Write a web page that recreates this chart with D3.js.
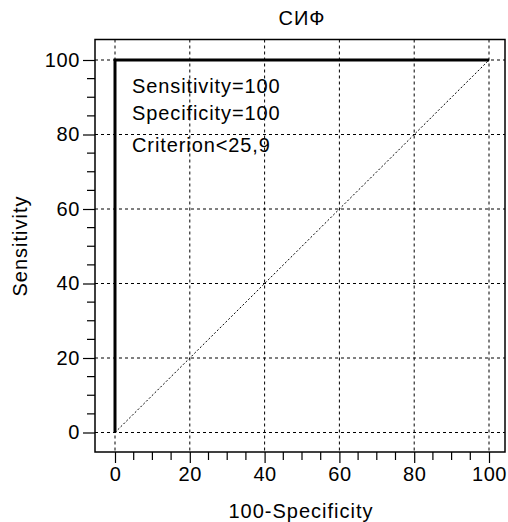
<!DOCTYPE html>
<html>
<head>
<meta charset="utf-8">
<script src="https://cdn.jsdelivr.net/npm/d3@7"></script>
<style>
  body { margin: 0; background: white; }
  svg { font-family: 'Liberation Sans', Arial, sans-serif; }
</style>
</head>
<body>
<div id="chart"></div>
<script>
var rocX = [0, 0, 100];
var rocY = [0, 100, 100];
var diagX = [0, 100];
var diagY = [0, 100];
var tickVals = [0, 20, 40, 60, 80, 100];
var notes = ['Sensitivity=100', 'Specificity=100', 'Criterion<25,9'];

var width = 508;
var height = 522;
var frame = { left: 95, right: 505, top: 39.5, bottom: 452 };
var font = "'Liberation Sans', Arial, sans-serif";

var svg = d3.select('#chart').append('svg')
    .attr('width', width)
    .attr('height', height);

var xScale = d3.scaleLinear().domain([0, 100]).range([115, 489]);
var yScale = d3.scaleLinear().domain([0, 100]).range([432.5, 60]);

var minorVals = d3.range(0, 101, 5).filter(d => d % 20 !== 0);

// grid
svg.append('g').selectAll('line').data(tickVals).enter()
    .append('line')
    .attr('x1', d => xScale(d)).attr('x2', d => xScale(d))
    .attr('y1', frame.top).attr('y2', frame.bottom)
    .attr('stroke', '#000').attr('stroke-width', 1)
    .attr('stroke-dasharray', '3,3');

svg.append('g').selectAll('line').data(tickVals).enter()
    .append('line')
    .attr('x1', frame.left).attr('x2', frame.right)
    .attr('y1', d => yScale(d)).attr('y2', d => yScale(d))
    .attr('stroke', '#000').attr('stroke-width', 1)
    .attr('stroke-dasharray', '3,3');

// frame
svg.append('rect')
    .attr('x', frame.left).attr('y', frame.top)
    .attr('width', frame.right - frame.left)
    .attr('height', frame.bottom - frame.top)
    .attr('fill', 'none').attr('stroke', '#000').attr('stroke-width', 1.5);

// axes
var xAxis = d3.axisBottom(xScale).tickValues(tickVals).tickSize(11).tickPadding(4);
var yAxis = d3.axisLeft(yScale).tickValues(tickVals).tickSize(12).tickPadding(3);

var gx = svg.append('g')
    .attr('transform', `translate(0,${frame.bottom})`)
    .call(xAxis);
var gy = svg.append('g')
    .attr('transform', `translate(${frame.left},0)`)
    .call(yAxis);

[gx, gy].forEach(g => {
    g.select('.domain').remove();
    g.selectAll('line').attr('stroke', '#000').attr('stroke-width', 1.2);
    g.selectAll('text').attr('font-size', 20).attr('fill', '#000')
        .attr('letter-spacing', 0.6)
        .attr('font-family', font);
});

svg.append('g').selectAll('line').data(minorVals).enter()
    .append('line')
    .attr('x1', d => xScale(d)).attr('x2', d => xScale(d))
    .attr('y1', frame.bottom).attr('y2', frame.bottom + 8)
    .attr('stroke', '#000').attr('stroke-width', 1.2);

svg.append('g').selectAll('line').data(minorVals).enter()
    .append('line')
    .attr('x1', frame.left - 8).attr('x2', frame.left)
    .attr('y1', d => yScale(d)).attr('y2', d => yScale(d))
    .attr('stroke', '#000').attr('stroke-width', 1.2);

// diagonal
var line = d3.line().x(d => xScale(d[0])).y(d => yScale(d[1]));

svg.append('path')
    .attr('d', line(d3.zip(diagX, diagY)))
    .attr('fill', 'none').attr('stroke', '#000')
    .attr('stroke-width', 1).attr('stroke-dasharray', '2,2');

// roc curve
svg.append('path')
    .attr('d', line(d3.zip(rocX, rocY)))
    .attr('fill', 'none').attr('stroke', '#000')
    .attr('stroke-width', 3).attr('stroke-linejoin', 'miter');

// notes
svg.append('g').selectAll('text').data(notes).enter()
    .append('text')
    .attr('x', 132)
    .attr('y', (d, i) => 93 + i * 26.5 + (i === 2 ? 6 : 0))
    .attr('font-size', 20)
    .attr('letter-spacing', 0.9)
    .text(d => d);

// titles
svg.append('text')
    .attr('x', 302).attr('y', 25)
    .attr('text-anchor', 'middle')
    .attr('font-size', 20)
    .attr('letter-spacing', 1)
    .text('СИФ');

svg.append('text')
    .attr('x', 301).attr('y', 518)
    .attr('text-anchor', 'middle')
    .attr('font-size', 20)
    .attr('letter-spacing', 1)
    .text('100-Specificity');

svg.append('text')
    .attr('transform', 'translate(27,246)rotate(-90)')
    .attr('text-anchor', 'middle')
    .attr('font-size', 20)
    .attr('letter-spacing', 1)
    .text('Sensitivity');
</script>
</body>
</html>
